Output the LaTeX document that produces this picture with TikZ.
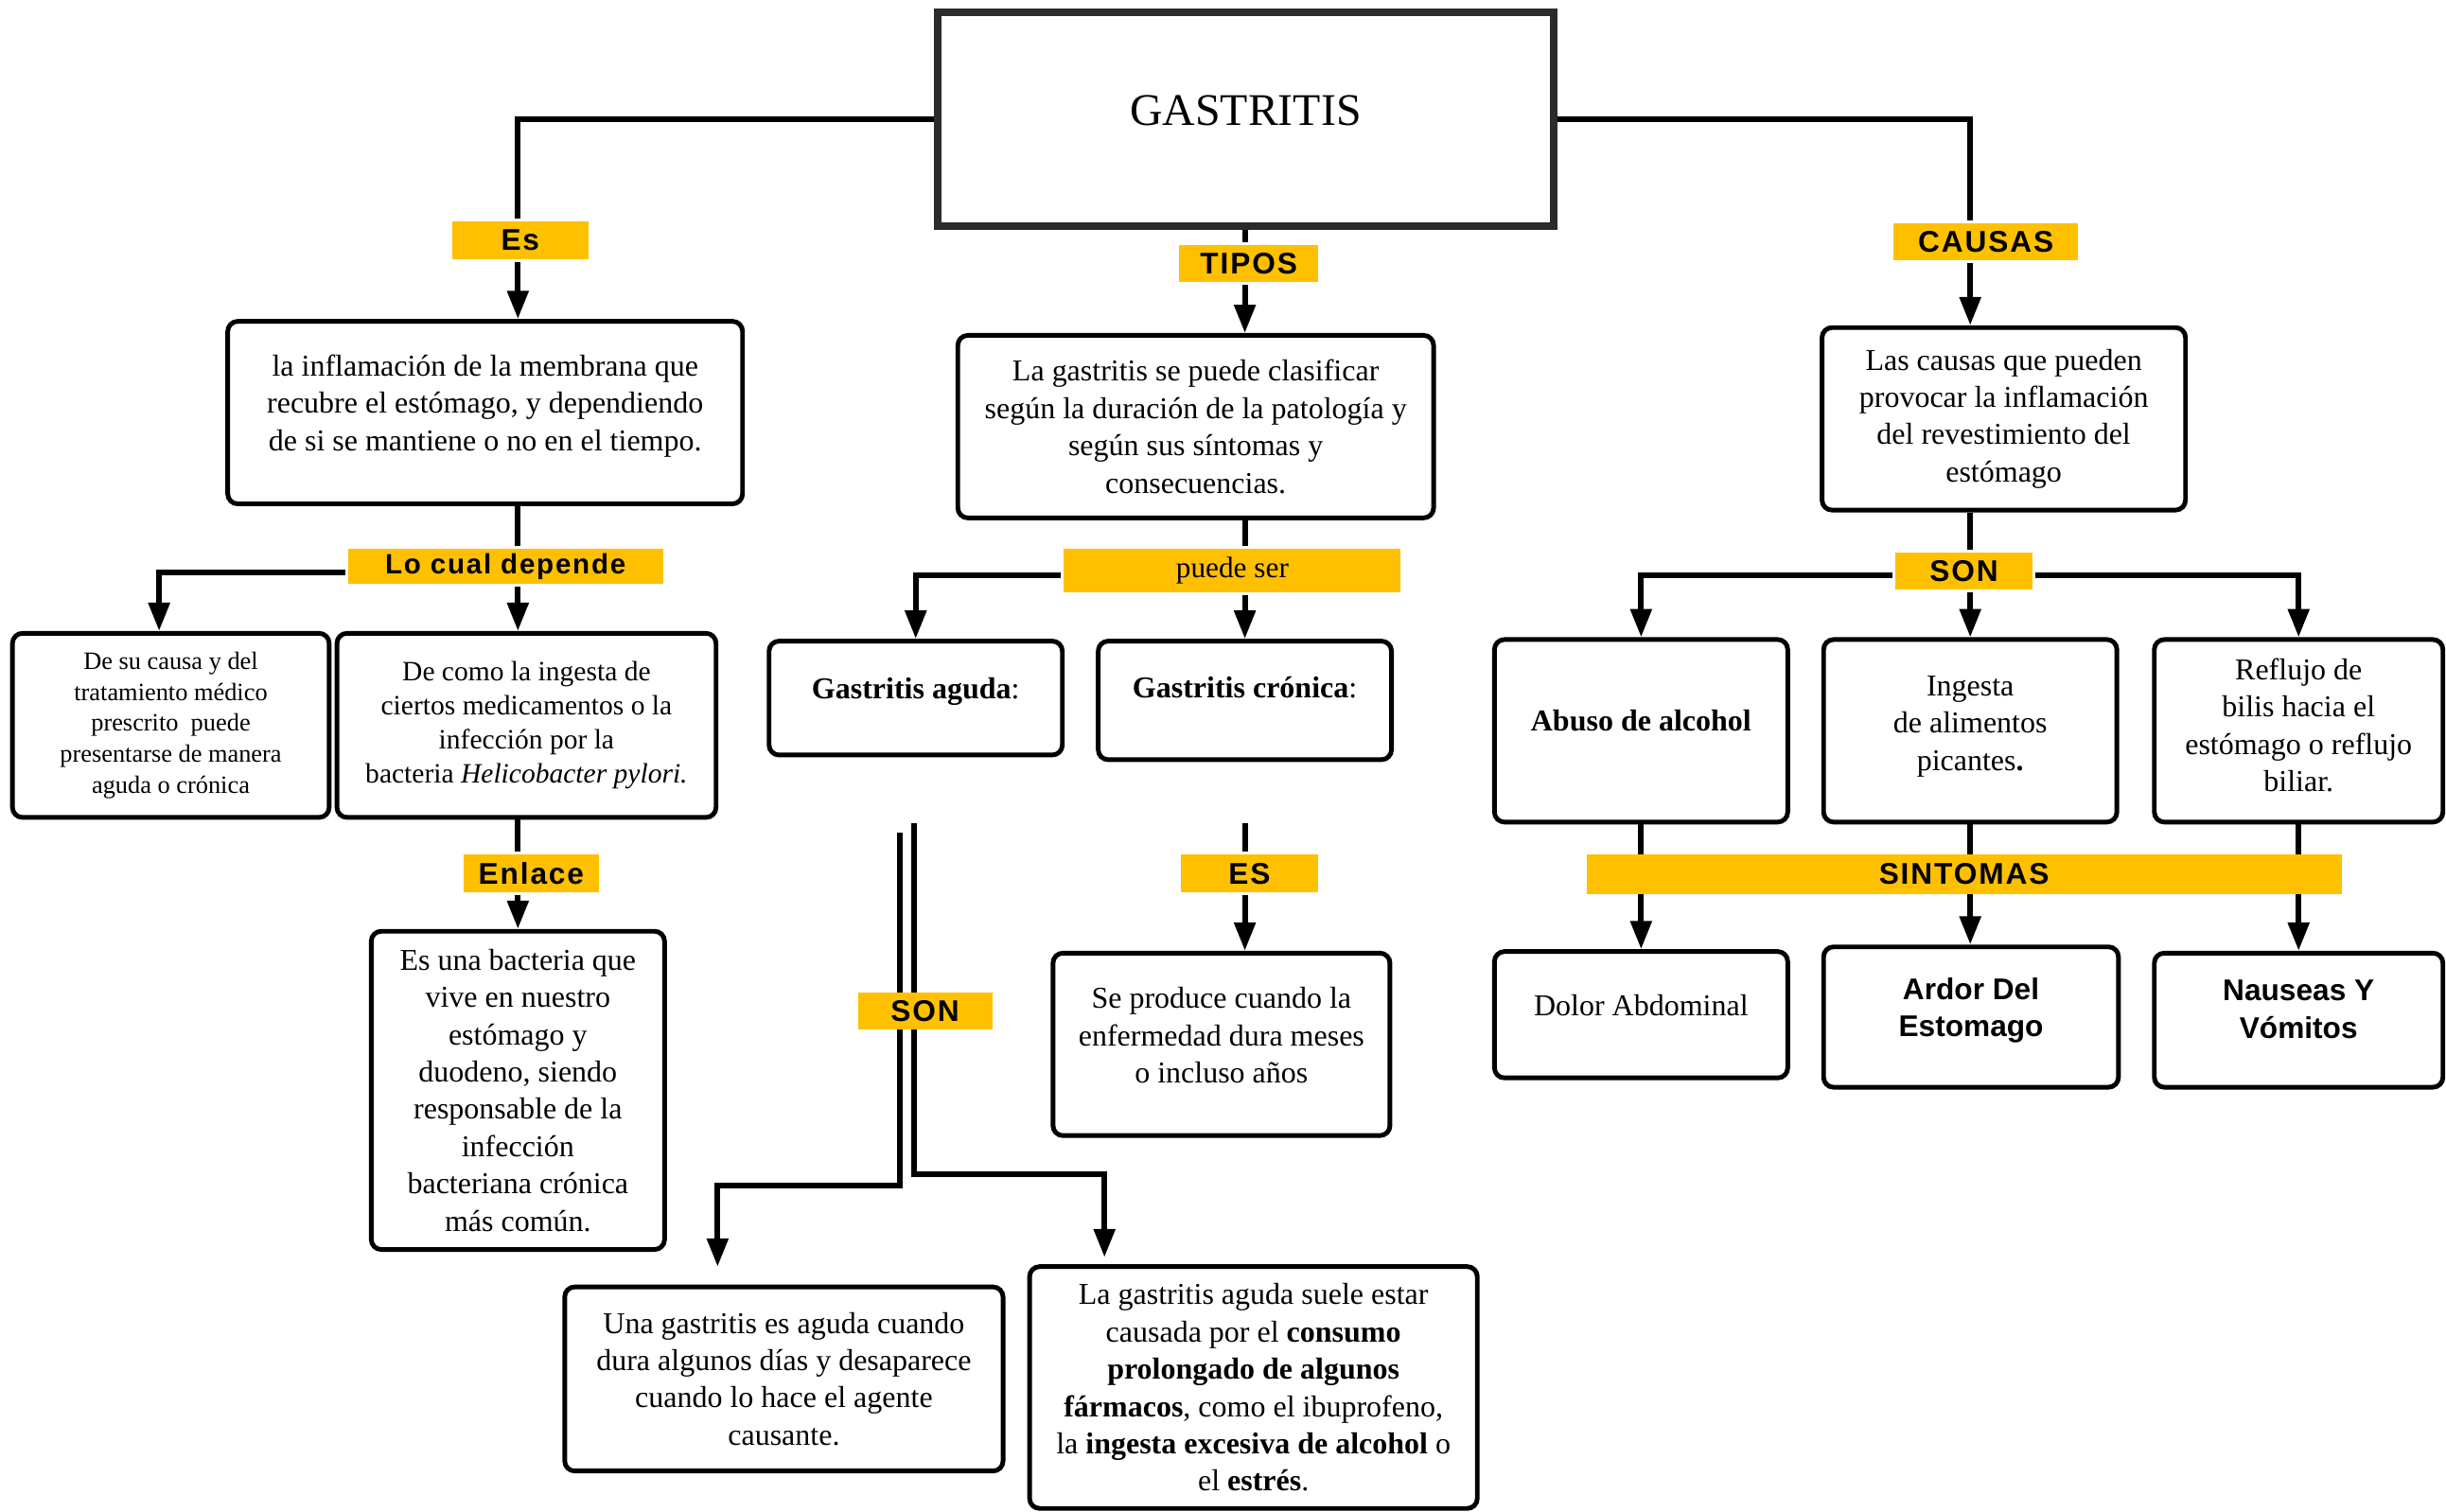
\documentclass[tikz,border=0pt]{standalone}
\usepackage{fontspec}
\setmainfont{Liberation Serif}
\setsansfont{Liberation Sans}
\newfontfamily\etiqfont{Liberation Sans}[LetterSpace=6]
\usetikzlibrary{arrows.meta}
\definecolor{amarillo}{HTML}{FFC000}
\newdimen\pxl \pxl=0.016486cm

\begin{document}
\begin{tikzpicture}[x=0.016486cm,y=-0.016486cm,>={Triangle[length=8.5pt,width=6.2pt]},
    line width=1.7pt,
    caja/.style={draw,line width=1.4pt,rounded corners=3pt,align=center,inner sep=0pt,
                 font=\fontsize{9.1}{11.2}\selectfont},
    medida/.style 2 args={minimum width=#1*\pxl,minimum height=#2*\pxl},
    etiq/.style={fill=amarillo,inner sep=0pt,font=\etiqfont\bfseries\fontsize{9}{10}\selectfont},
    negrita/.style={font=\sffamily\bfseries\fontsize{9}{11.2}\selectfont}]
  \useasboundingbox (0,0) rectangle (1568,969);

  % cajas
  \node[draw=black!83,line width=2.1pt,medida={395}{137},text depth=5.6pt,font=\fontsize{13.6}{16}\selectfont] (gast) at (798.5,76.5) {GASTRITIS};
  \node[caja,medida={330}{117},text depth=6pt] (def) at (311,264.5) {la inflamación de la membrana que\\ recubre el estómago, y dependiendo\\ de si se mantiene o no en el tiempo.};
  \node[caja,medida={305}{117}] (clas) at (766.5,273.5) {La gastritis se puede clasificar\\ según la duración de la patología y\\ según sus síntomas y\\ consecuencias.};
  \node[caja,medida={233}{117}] (ccau) at (1284.5,268.5) {Las causas que pueden\\ provocar la inflamación\\ del revestimiento del\\ estómago};
  \node[caja,medida={203}{118},font=\fontsize{7.5}{9.3}\selectfont] (dsu) at (109.5,465) {De su causa y del\\ tratamiento médico\\ prescrito\ \ puede\\ presentarse de manera\\ aguda o crónica};
  \node[caja,medida={243}{118},font=\fontsize{8.4}{10.3}\selectfont] (dcomo) at (337.5,465) {De como la ingesta de\\ ciertos medicamentos o la\\ infección por la\\ bacteria \textit{Helicobacter pylori.}};
  \node[caja,medida={188}{204}] (bact) at (332,699) {Es una bacteria que\\ vive en nuestro\\ estómago y\\ duodeno, siendo\\ responsable de la\\ infección\\ bacteriana crónica\\ más común.};
  \node[caja,medida={188}{73},text depth=5.8pt] (agu) at (587,447.5) {\textbf{Gastritis aguda}:};
  \node[caja,medida={188}{76},text depth=7.6pt] (cron) at (798,449) {\textbf{Gastritis crónica}:};
  \node[caja,medida={216}{117},text depth=5.6pt] (prod) at (783,669.5) {Se produce cuando la\\ enfermedad dura meses\\ o incluso años};
  \node[caja,medida={281}{118}] (aguA) at (502.5,884) {Una gastritis es aguda cuando\\ dura algunos días y desaparece\\ cuando lo hace el agente\\ causante.};
  \node[caja,medida={287}{155}] (aguB) at (803.5,889.5) {La gastritis aguda suele estar\\ causada por el \textbf{consumo}\\ \textbf{prolongado de algunos}\\ \textbf{fármacos}, como el ibuprofeno,\\ la \textbf{ingesta excesiva de alcohol} o\\ el \textbf{estrés}.};
  \node[caja,medida={188}{117},text depth=6pt] (abu) at (1052,468.5) {\textbf{Abuso de alcohol}};
  \node[caja,medida={188}{117},text depth=4.6pt] (ing) at (1263,468.5) {Ingesta\\ de alimentos\\ picantes\textbf{.}};
  \node[caja,medida={185}{117},text depth=3.6pt] (ref) at (1473.5,468.5) {Reflujo de\\ bilis hacia el\\ estómago o reflujo\\ biliar.};
  \node[caja,medida={188}{81},text depth=5.6pt] (dol) at (1052,650.5) {Dolor Abdominal};
  \node[caja,medida={189}{90},negrita,text depth=5.8pt] (ard) at (1263.5,652) {Ardor Del\\ Estomago};
  \node[caja,medida={185}{86},negrita,text depth=6.6pt] (nau) at (1473.5,654) {Nauseas Y\\ Vómitos};

  % etiquetas
  \node[etiq,medida={87}{24}] (es) at (333.5,154) {Es};
  \node[etiq,medida={89}{24}] (tip) at (800.5,169) {TIPOS};
  \node[etiq,medida={118}{24}] (cau) at (1273,155) {CAUSAS};
  \node[etiq,medida={202}{22},font=\etiqfont\bfseries\fontsize{8.4}{10}\selectfont] (lcd) at (324,363) {Lo cual depende};
  \node[etiq,medida={87}{24}] (enl) at (340.5,560) {Enlace};
  \node[etiq,medida={216}{28},font=\fontsize{8.9}{11}\selectfont] (pds) at (790,366) {puede ser};
  \node[etiq,medida={88}{24}] (es2) at (801,560) {ES};
  \node[etiq,medida={88}{24}] (son2) at (1259,366) {SON};

  \coordinate (ejeI) at (332,0);
  \coordinate (ejeM) at (798,0);
  \coordinate (ejeD) at (1263,0);
  \coordinate (ejeA) at (102,0);

  % conectores
  \draw (gast.west) -| (ejeI |- es.north);
  \draw[->] (ejeI |- es.south) -- (ejeI |- def.north);
  \draw (gast.south -| ejeM) -- (ejeM |- tip.north);
  \draw[->] (ejeM |- tip.south) -- (ejeM |- clas.north);
  \draw (gast.east) -| (ejeD |- cau.north);
  \draw[->] (ejeD |- cau.south) -- (ejeD |- ccau.north);

  \draw (ejeI |- def.south) -- (ejeI |- lcd.north);
  \draw[->] (ejeI |- lcd.south) -- (ejeI |- dcomo.north);
  \draw[->] ([yshift=-2pt]lcd.west) -| (ejeA |- dsu.north);
  \draw (ejeI |- dcomo.south) -- (ejeI |- enl.north);
  \draw[->] (ejeI |- enl.south) -- (ejeI |- bact.north);

  \draw (ejeM |- clas.south) -- (ejeM |- pds.north);
  \draw[->] (ejeM |- pds.south) -- (cron.north);
  \draw[->] ([yshift=-1.4pt]pds.west) -| (agu.north);

  \coordinate (iniC) at (798,528);
  \draw (iniC) -- (ejeM |- es2.north);
  \draw[->] (ejeM |- es2.south) -- (ejeM |- prod.north);

  \coordinate (iniA) at (577,534);
  \coordinate (codoA) at (460,760);
  \coordinate (finA) at (460,812);
  \coordinate (iniB) at (586,528);
  \coordinate (codoB) at (708,753);
  \coordinate (finB) at (708,806);
  \draw[->] (iniA) |- (codoA) -- (finA);
  \draw[->] (iniB) |- (codoB) -- (finB);
  \node[etiq,medida={86}{24}] (son1) at (593,648) {SON};

  \draw (ejeD |- ccau.south) -- (ejeD |- son2.north);
  \draw[->] (ejeD |- son2.south) -- (ing.north);
  \draw[->] ([yshift=-1.4pt]son2.west) -| (abu.north);
  \draw[->] ([yshift=-1.4pt]son2.east) -| (ref.north);
  \draw[->] (abu.south) -- (abu.south |- dol.north);
  \draw[->] (ing.south) -- (ing.south |- ard.north);
  \draw[->] (ref.south) -- (ref.south |- nau.north);
  \node[etiq,medida={484}{25}] (sint) at (1259,560.5) {SINTOMAS};
\end{tikzpicture}
\end{document}
